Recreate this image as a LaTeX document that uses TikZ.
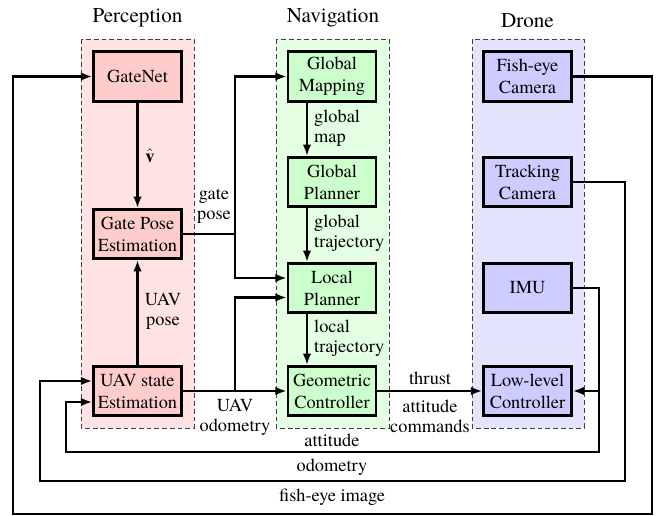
\documentclass[tikz,border=0pt]{standalone}
\usepackage{fontspec}
\setmainfont{texgyretermes}[Extension=.otf, UprightFont=*-regular, BoldFont=*-bold, ItalicFont=*-italic, BoldItalicFont=*-bolditalic]
\usetikzlibrary{arrows.meta,calc}
\definecolor{pbg}{RGB}{255,226,226}
\definecolor{pbox}{RGB}{255,204,204}
\definecolor{nbg}{RGB}{228,255,228}
\definecolor{nbox}{RGB}{204,255,204}
\definecolor{dbg}{RGB}{228,228,255}
\definecolor{dbox}{RGB}{204,204,255}
\begin{document}
\begin{tikzpicture}[x=0.545pt,y=-0.545pt,
  font=\fontsize{10}{12}\selectfont,
  blk/.style={draw, line width=1.4pt, minimum width=48pt, minimum height=27pt, align=center, inner sep=1pt},
  grp/.style={draw=black!75, line width=0.5pt, dash pattern=on 2.6pt off 1.6pt},
  con/.style={line width=1.1pt},
  arr/.style={con, -{Latex[length=6.2pt,width=4.6pt]}},
  lbl/.style={font=\fontsize{10}{11}\selectfont, align=center, inner sep=1pt},
  ttl/.style={font=\fontsize{11.5}{13}\selectfont, anchor=base, inner sep=0pt}]
\useasboundingbox (0,0) rectangle (657,516);
% group backgrounds
\draw[grp, fill=pbg] (81,39) rectangle (194,428);
\draw[grp, fill=nbg] (276,39) rectangle (389,428);
\draw[grp, fill=dbg] (472,39) rectangle (584,428);
\node[ttl] (tp) at (137.5,22) {Perception};
\node[ttl] (tn) at (333,22) {Navigation};
\node[ttl] (td) at (527.5,27) {Drone};
% blocks
\node[blk, fill=pbox] (gatenet) at (137.5,76.5) {GateNet};
\node[blk, fill=pbox] (gpe) at (137.5,234) {Gate Pose\\Estimation};
\node[blk, fill=pbox] (uav) at (137.5,391) {UAV state\\Estimation};
\node[blk, fill=nbox] (gmap) at (332,76.5) {Global\\Mapping};
\node[blk, fill=nbox] (gplan) at (332,182) {Global\\Planner};
\node[blk, fill=nbox] (lplan) at (332,288) {Local\\Planner};
\node[blk, fill=nbox] (geo) at (332,391) {Geometric\\Controller};
\node[blk, fill=dbox] (fish) at (527.5,76.5) {Fish-eye\\Camera};
\node[blk, fill=dbox] (track) at (527.5,182) {Tracking\\Camera};
\node[blk, fill=dbox] (imu) at (527.5,288) {IMU};
\node[blk, fill=dbox] (llc) at (527.5,391) {Low-level\\Controller};
% helper coordinates
\coordinate (navx) at (307,0);
\coordinate (j1) at (235,234);
\coordinate (j2) at (235,391);
\coordinate (c1) at (652,514);
\coordinate (c2) at (13,514);
\coordinate (c3) at (625,481);
\coordinate (c4) at (40,481);
\coordinate (c5) at (599,452);
\coordinate (c6) at (66,452);
% perception
\draw[arr] (gatenet.south) -- (gpe.north);
\draw[arr] (uav.north) -- (gpe.south);
\node[lbl] (lv) at (150,156) {$\hat{\mathbf{v}}$};
\node[lbl] (lup) at (163,311) {UAV\\pose};
% navigation chain
\draw[arr] (gmap.south -| navx) -- (gplan.north -| navx);
\draw[arr] (gplan.south -| navx) -- (lplan.north -| navx);
\draw[arr] (lplan.south -| navx) -- (geo.north -| navx);
\node[lbl, anchor=west, align=left] (lgm) at (312,128) {global\\map};
\node[lbl, anchor=west, align=left] (lgt) at (312,233.5) {global\\trajectory};
\node[lbl, anchor=west, align=left] (llt) at (312,338) {local\\trajectory};
% gate pose
\draw[con] (gpe.east) -- (j1);
\draw[arr] (j1) |- (gmap.west);
\draw[arr] (j1) |- ($(lplan.west)+(0,-10)$);
\node[lbl] (lgp) at (214,206) {gate\\pose};
% UAV odometry
\draw[arr] (uav.east) -- (geo.west);
\draw[arr] (j2) |- ($(lplan.west)+(0,9.5)$);
\node[lbl] (luo) at (235,417) {UAV\\odometry};
% commands
\draw[arr] (geo.east) -- (llc.west);
\node[lbl] (lth) at (430,378) {thrust};
\node[lbl] (lac) at (430,416) {attitude\\commands};
% feedback loops
\draw[arr] (fish.east) -| (c1) -- (c2) |- (gatenet.west);
\draw[arr] (track.east) -| (c3) -- (c4) |- ($(uav.west)+(0,-10)$);
\draw[arr] (imu.east) -| (c5) -- (c6) |- ($(uav.west)+(0,11)$);
\draw[arr] (c5 |- llc.east) -- (llc.east);
\node[lbl] (lat) at (332,440) {attitude};
\node[lbl] (lod) at (332,467) {odometry};
\node[lbl] (lfi) at (332,497) {fish-eye image};
\end{tikzpicture}
\end{document}
